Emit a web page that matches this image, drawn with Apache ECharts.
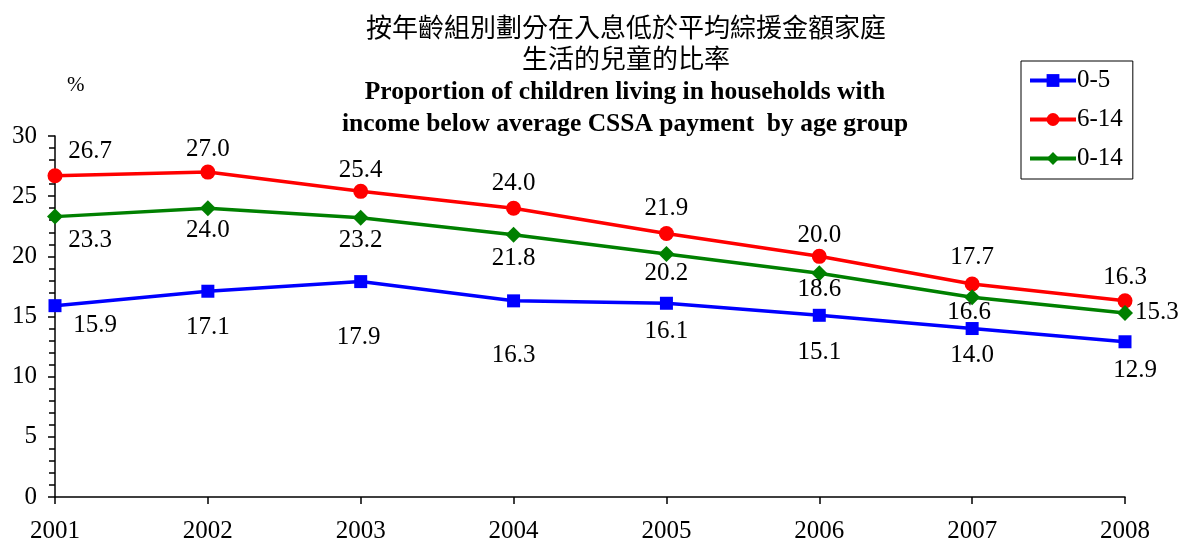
<!DOCTYPE html>
<html>
<head>
<meta charset="utf-8">
<script src="https://cdn.jsdelivr.net/npm/echarts@6/dist/echarts.min.js"></script>
<style>
    html, body { margin: 0; padding: 0; background: #fff; }
    #chart_con { width: 1181px; height: 546px; }
</style>
</head>
<body>
<div id="chart_con"></div>
<script>
    // data
    var years = ['2001', '2002', '2003', '2004', '2005', '2006', '2007', '2008'];
    var age0to5 = [15.9, 17.1, 17.9, 16.3, 16.1, 15.1, 14.0, 12.9];
    var age6to14 = [26.7, 27.0, 25.4, 24.0, 21.9, 20.0, 17.7, 16.3];
    var age0to14 = [23.3, 24.0, 23.2, 21.8, 20.2, 18.6, 16.6, 15.3];
    var yTicks = [0, 5, 10, 15, 20, 25, 30];

    // label nudges (px) so the numbers sit where they are in the original
    var nudge0to5 = [[40, -3], [0, 13], [-2, 33], [0, 32], [0, 5], [0, 14], [0, 4], [10, 6]];
    var nudge6to14 = [[35, 0], [0, 1], [0, 3], [0, -1], [0, -1], [0, 3], [0, -3], [0, 1]];
    var nudge0to14 = [[35, -1], [0, -2], [0, -2], [0, -1], [0, -5], [0, -8], [-3, -9], null];

    var serif = '"Liberation Serif", "Times New Roman", serif';
    var cjk = '"Noto Sans CJK TC", "Noto Sans CJK SC", sans-serif';

    function withLabels(values, nudges) {
        var out = [];
        for (var i = 0; i < values.length; i++) {
            if (nudges[i]) {
                out.push({ value: values[i], label: { offset: nudges[i] } });
            } else {
                // last green label sits to the right of the point
                out.push({ value: values[i], label: { position: 'right', distance: 2, offset: [0, 0] } });
            }
        }
        return out;
    }

    var chart = echarts.init(document.getElementById('chart_con'));

    var labelStyle = {
        show: true,
        color: '#000',
        fontFamily: serif,
        fontSize: 25,
        distance: 4,
        formatter: function (p) { return p.value.toFixed(1); }
    };

    var option = {
        backgroundColor: '#fff',
        animation: false,
        graphic: [
            {
                type: 'text', x: 626, y: 14,
                style: { text: '按年齡組別劃分在入息低於平均綜援金額家庭', font: '26px ' + cjk, fill: '#000', textAlign: 'center' }
            },
            {
                type: 'text', x: 626, y: 45,
                style: { text: '生活的兒童的比率', font: '26px ' + cjk, fill: '#000', textAlign: 'center' }
            },
            {
                type: 'text', x: 625, y: 79,
                style: { text: 'Proportion of children living in households with', font: 'bold 25.5px ' + serif, fill: '#000', textAlign: 'center' }
            },
            {
                type: 'text', x: 625, y: 111,
                style: { text: 'income below average CSSA payment  by age group', font: 'bold 25.5px ' + serif, fill: '#000', textAlign: 'center' }
            },
            {
                type: 'text', x: 67, y: 75,
                style: { text: '%', font: '21px ' + serif, fill: '#000' }
            }
        ],
        legend: {
            orient: 'vertical',
            left: 1021,
            top: 61,
            padding: [7, 10, 8, 7],
            itemWidth: 46,
            itemHeight: 16,
            itemGap: 14,
            borderColor: '#000',
            borderWidth: 1,
            lineStyle: { width: 4 },
            textStyle: { fontFamily: serif, fontSize: 25, color: '#000', padding: [0, 0, 0, -4] },
            data: ['0-5', '6-14', '0-14']
        },
        grid: {
            left: 55,
            right: 56,
            top: 136,
            bottom: 49
        },
        xAxis: {
            type: 'category',
            data: years,
            boundaryGap: false,
            axisLine: { lineStyle: { color: '#000', width: 1.5 } },
            axisTick: { alignWithLabel: true, length: 7, lineStyle: { color: '#000', width: 1.5 } },
            axisLabel: { color: '#000', fontFamily: serif, fontSize: 25, margin: 22 },
            splitLine: { show: false }
        },
        yAxis: {
            type: 'value',
            min: yTicks[0],
            max: yTicks[yTicks.length - 1],
            interval: 5,
            axisLine: { show: true, lineStyle: { color: '#000', width: 1.5 } },
            axisTick: { show: true, length: 7, lineStyle: { color: '#000', width: 1.5 } },
            minorTick: { show: true, splitNumber: 5, length: 6, lineStyle: { color: '#000', width: 1.5 } },
            axisLabel: { color: '#000', fontFamily: serif, fontSize: 25, margin: 18 },
            splitLine: { show: false }
        },
        series: [
            {
                name: '6-14',
                type: 'line',
                data: withLabels(age6to14, nudge6to14),
                symbol: 'circle',
                symbolSize: 15,
                color: '#ff0000',
                lineStyle: { width: 3.5 },
                label: Object.assign({}, labelStyle, { position: 'top' })
            },
            {
                name: '0-14',
                type: 'line',
                data: withLabels(age0to14, nudge0to14),
                symbol: 'diamond',
                symbolSize: 16,
                color: '#008000',
                lineStyle: { width: 3.5 },
                label: Object.assign({}, labelStyle, { position: 'bottom' })
            },
            {
                name: '0-5',
                type: 'line',
                data: withLabels(age0to5, nudge0to5),
                symbol: 'rect',
                symbolSize: 13,
                color: '#0000ff',
                lineStyle: { width: 3.5 },
                label: Object.assign({}, labelStyle, { position: 'bottom' })
            }
        ]
    };

    chart.setOption(option);

    window.addEventListener('resize', function () {
        chart.resize();
    });
</script>
</body>
</html>
